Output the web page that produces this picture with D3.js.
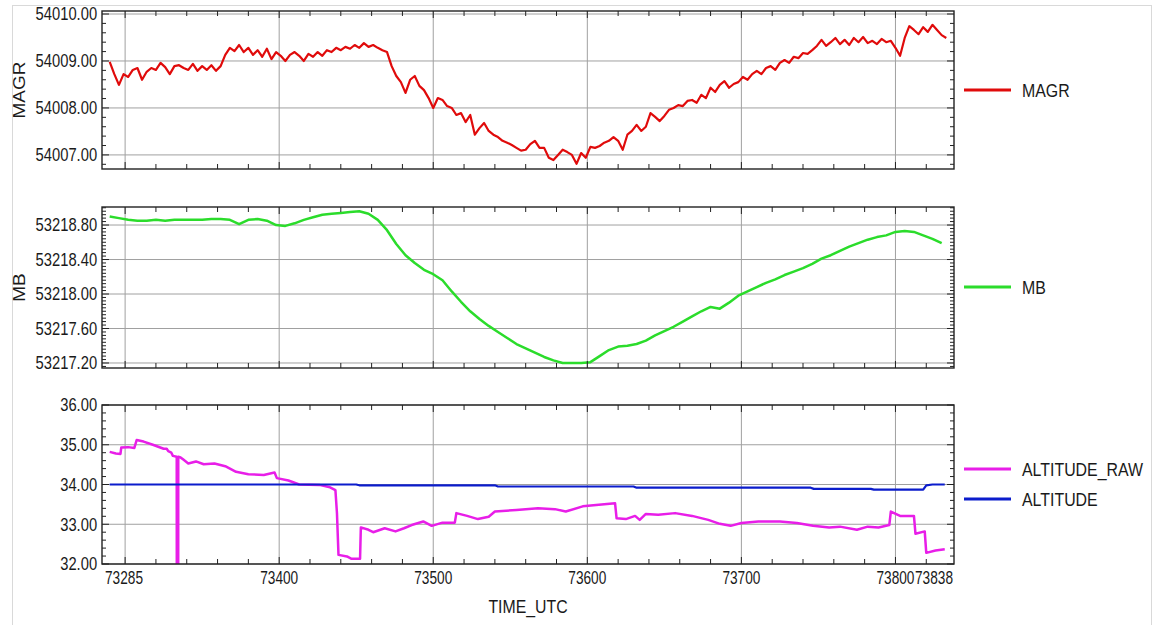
<!DOCTYPE html>
<html>
<head>
<meta charset="utf-8">
<script src="https://cdnjs.cloudflare.com/ajax/libs/d3/7.8.5/d3.min.js"></script>
<style>
    body {margin: 0; background: #fff;}
    text {font-family: "Liberation Sans", Arial, sans-serif; fill: #1a1a1a;}
</style>
</head>
<body>
<div class="chart"></div>
<script>
// MAGR, one sample every 3 s from 73290
const magrStart = 73290, magrStep = 3;
const magrValues = [
    54008.98, 54008.72, 54008.49, 54008.72, 54008.66, 54008.81, 54008.85, 54008.60, 54008.77, 54008.85,
    54008.81, 54008.96, 54008.87, 54008.72, 54008.89, 54008.91, 54008.85, 54008.81, 54008.94, 54008.79,
    54008.89, 54008.81, 54008.91, 54008.79, 54008.89, 54009.13, 54009.28, 54009.21, 54009.34, 54009.19,
    54009.28, 54009.13, 54009.23, 54009.09, 54009.26, 54009.04, 54009.19, 54009.11, 54009.00, 54009.13,
    54009.19, 54009.11, 54009.00, 54009.15, 54009.09, 54009.19, 54009.11, 54009.23, 54009.19, 54009.28,
    54009.23, 54009.30, 54009.26, 54009.34, 54009.28, 54009.38, 54009.30, 54009.34, 54009.28, 54009.23,
    54009.19, 54008.89, 54008.68, 54008.55, 54008.32, 54008.60, 54008.68, 54008.47, 54008.38, 54008.21,
    54008.00, 54008.21, 54008.17, 54008.04, 54008.00, 54007.85, 54007.89, 54007.70, 54007.85, 54007.43,
    54007.57, 54007.68, 54007.51, 54007.43, 54007.38, 54007.30, 54007.26, 54007.21, 54007.15, 54007.09,
    54007.11, 54007.23, 54007.30, 54007.15, 54007.15, 54006.94, 54006.89, 54007.00, 54007.11, 54007.06,
    54007.00, 54006.81, 54007.04, 54006.94, 54007.17, 54007.15, 54007.19, 54007.26, 54007.30, 54007.38,
    54007.30, 54007.11, 54007.43, 54007.51, 54007.64, 54007.51, 54007.60, 54007.89, 54007.81, 54007.72,
    54007.83, 54007.96, 54008.00, 54008.06, 54008.04, 54008.15, 54008.17, 54008.11, 54008.28, 54008.21,
    54008.43, 54008.34, 54008.49, 54008.57, 54008.43, 54008.51, 54008.55, 54008.66, 54008.60, 54008.72,
    54008.79, 54008.72, 54008.85, 54008.89, 54008.81, 54008.96, 54009.02, 54008.96, 54009.09, 54009.06,
    54009.17, 54009.15, 54009.23, 54009.32, 54009.45, 54009.32, 54009.40, 54009.49, 54009.36, 54009.45,
    54009.34, 54009.49, 54009.40, 54009.51, 54009.38, 54009.43, 54009.36, 54009.47, 54009.40, 54009.43,
    54009.28, 54009.11, 54009.49, 54009.74, 54009.66, 54009.57, 54009.72, 54009.62, 54009.77, 54009.66,
    54009.55, 54009.49
];

// MB, one sample every 6 s from 73290
const mbStart = 73290, mbStep = 6;
const mbValues = [
    53218.90, 53218.88, 53218.86, 53218.85, 53218.85, 53218.86, 53218.85, 53218.86, 53218.86, 53218.86,
    53218.86, 53218.87, 53218.87, 53218.86, 53218.81, 53218.86, 53218.87, 53218.85, 53218.80, 53218.79,
    53218.82, 53218.86, 53218.89, 53218.92, 53218.93, 53218.94, 53218.95, 53218.96, 53218.93, 53218.86,
    53218.74, 53218.58, 53218.45, 53218.36, 53218.28, 53218.23, 53218.16, 53218.03, 53217.91, 53217.80,
    53217.71, 53217.63, 53217.56, 53217.49, 53217.42, 53217.37, 53217.32, 53217.27, 53217.23, 53217.20,
    53217.20, 53217.20, 53217.21, 53217.28, 53217.35, 53217.39, 53217.40, 53217.42, 53217.46, 53217.52,
    53217.57, 53217.62, 53217.68, 53217.74, 53217.80, 53217.85, 53217.83, 53217.90, 53217.98, 53218.03,
    53218.08, 53218.13, 53218.17, 53218.22, 53218.26, 53218.30, 53218.35, 53218.41, 53218.45, 53218.50,
    53218.55, 53218.59, 53218.63, 53218.66, 53218.68, 53218.72, 53218.73, 53218.72, 53218.68, 53218.64,
    53218.59
];

// ALTITUDE_RAW (steps, one dropout at 73334)
const altRawTime = [
    73290, 73294, 73297, 73297.5, 73302, 73306, 73307.5, 73312, 73318, 73325,
    73327, 73328, 73330, 73331, 73333.5, 73334, 73334.5, 73336, 73338, 73341,
    73346, 73351, 73358, 73365, 73372, 73380, 73390, 73397, 73398.5, 73406,
    73413, 73426, 73433, 73436.5, 73437.5, 73438.5, 73444, 73447, 73452.5, 73453,
    73458, 73461, 73468.5, 73475.5, 73481, 73486, 73493.5, 73499, 73506, 73514,
    73515, 73522, 73529, 73536, 73540, 73554, 73568, 73579, 73586, 73597,
    73607.5, 73618, 73619, 73625, 73631, 73634, 73638, 73646, 73657, 73668,
    73678.5, 73686, 73693, 73700, 73711, 73725, 73736, 73746.5, 73757, 73764,
    73775, 73782, 73789, 73796, 73797, 73803, 73812, 73813, 73819, 73820,
    73826, 73832
];
const altRawValues = [
    34.82, 34.78, 34.77, 34.93, 34.94, 34.92, 35.12, 35.08, 35.00, 34.90,
    34.90, 34.84, 34.80, 34.72, 34.70, 0, 34.70, 34.68, 34.62, 34.53,
    34.58, 34.51, 34.53, 34.46, 34.32, 34.26, 34.24, 34.30, 34.16, 34.10,
    34.00, 33.99, 33.93, 33.86, 33.28, 32.23, 32.19, 32.13, 32.13, 32.92,
    32.86, 32.80, 32.90, 32.82, 32.90, 32.98, 33.07, 32.96, 33.04, 33.04,
    33.28, 33.21, 33.13, 33.19, 33.32, 33.36, 33.40, 33.38, 33.32, 33.45,
    33.49, 33.53, 33.15, 33.13, 33.21, 33.11, 33.26, 33.24, 33.28, 33.21,
    33.11, 33.01, 32.96, 33.03, 33.07, 33.07, 33.03, 32.96, 32.92, 32.94,
    32.86, 32.94, 32.92, 32.98, 33.32, 33.21, 33.21, 32.76, 32.82, 32.28,
    32.34, 32.37
];

// ALTITUDE
const altTime = [73290, 73450, 73452, 73540, 73542, 73630, 73632, 73745, 73747, 73784, 73786, 73818, 73820, 73824, 73832];
const altValues = [34.00, 34.00, 33.98, 33.98, 33.95, 33.95, 33.92, 33.92, 33.89, 33.89, 33.87, 33.87, 33.98, 34.00, 34.00];

const xDomain = [73285, 73838];
const xGridTicks = [73300, 73400, 73500, 73600, 73700, 73800];
const xTickLabels = [73285, 73400, 73500, 73600, 73700, 73800, 73838];
const magrTicks = [54007, 54008, 54009, 54010];
const mbTicks = [53217.2, 53217.6, 53218.0, 53218.4, 53218.8];
const altTicks = [32, 33, 34, 35, 36];

const COLORS = {MAGR: "#e00b0b", MB: "#2bdc2b", ALTITUDE_RAW: "#e81ee8", ALTITUDE: "#0b1ccc"};

let svg = d3.select(".chart").append("svg").attr("width", 1153).attr("height", 625);

// outer light frame
svg.append("rect").attr("x", 12.5).attr("y", 5.5).attr("width", 1139).attr("height", 640)
    .attr("fill", "none").attr("stroke", "#d9d9d9");

let left = 102, right = 954;
let x = d3.scaleLinear().domain(xDomain).range([left, right]);

function rangeStep(lo, hi, step) {
    let out = [];
    for (let k = Math.ceil(lo / step - 1e-6); k <= Math.floor(hi / step + 1e-6); k++) out.push(+(k * step).toFixed(4));
    return out;
}

function drawPanel(cfg) {
    let y = d3.scaleLinear().domain(cfg.domain).range([cfg.bottom, cfg.top]);
    let g = svg.append("g");

    // grid
    g.append("g").selectAll("line").data(cfg.ticks).enter().append("line")
        .attr("x1", left).attr("x2", right)
        .attr("y1", d => y(d)).attr("y2", d => y(d))
        .attr("stroke", "#a0a0a0").attr("stroke-width", 1);
    g.append("g").selectAll("line").data(xGridTicks).enter().append("line")
        .attr("x1", d => x(d)).attr("x2", d => x(d))
        .attr("y1", cfg.top).attr("y2", cfg.bottom)
        .attr("stroke", "#a0a0a0").attr("stroke-width", 1);

    // series
    svg.append("clipPath").attr("id", "clip-" + cfg.id).append("rect")
        .attr("x", left).attr("y", cfg.top).attr("width", right - left).attr("height", cfg.bottom - cfg.top);
    let line = d3.line().x(d => x(d.t)).y(d => y(d.v));
    cfg.series.forEach(function (s) {
        g.append("path").datum(s.data)
            .attr("clip-path", "url(#clip-" + cfg.id + ")")
            .attr("fill", "none").attr("stroke", COLORS[s.name])
            .attr("stroke-width", s.width).attr("stroke-linejoin", "round")
            .attr("d", line);
    });

    // minor ticks, inside the frame
    let minorY = rangeStep(cfg.domain[0], cfg.domain[1], cfg.minor);
    let ticksG = g.append("g").attr("stroke", "#222").attr("stroke-width", 1);
    minorY.forEach(function (v) {
        let len = cfg.ticks.some(t => Math.abs(t - v) < 1e-6) ? 7 : 4;
        ticksG.append("line").attr("x1", left).attr("x2", left + len).attr("y1", y(v)).attr("y2", y(v));
        ticksG.append("line").attr("x1", right).attr("x2", right - len).attr("y1", y(v)).attr("y2", y(v));
    });
    rangeStep(xDomain[0], xDomain[1], 20).forEach(function (t) {
        let len = t % 100 === 0 ? 7 : 5;
        ticksG.append("line").attr("x1", x(t)).attr("x2", x(t)).attr("y1", cfg.bottom).attr("y2", cfg.bottom - len);
        ticksG.append("line").attr("x1", x(t)).attr("x2", x(t)).attr("y1", cfg.top).attr("y2", cfg.top + len);
    });

    g.append("rect").attr("x", left).attr("y", cfg.top)
        .attr("width", right - left).attr("height", cfg.bottom - cfg.top)
        .attr("fill", "none").attr("stroke", "#222").attr("stroke-width", 1.4);

    // tick labels
    let axis = g.append("g").attr("transform", "translate(" + left + ",0)")
        .call(d3.axisLeft(y).tickValues(cfg.ticks).tickFormat(d3.format(".2f")).tickSize(0).tickPadding(6));
    axis.select(".domain").remove();
    axis.selectAll("text").attr("font-size", "18px").attr("font-family", null)
        .attr("transform", "scale(0.82,1)").attr("fill", "#1a1a1a");

    if (cfg.title) {
        g.append("text")
            .attr("transform", "translate(25," + ((cfg.top + cfg.bottom) / 2) + ") rotate(-90) scale(1,0.85)")
            .attr("text-anchor", "middle").attr("font-size", "19px").text(cfg.title);
    }

    // legend
    cfg.series.forEach(function (s, i) {
        let ly = cfg.legendY + i * 30;
        g.append("line").attr("x1", 964).attr("x2", 1011).attr("y1", ly).attr("y2", ly)
            .attr("stroke", COLORS[s.name]).attr("stroke-width", 3);
        g.append("text").attr("transform", "translate(1022," + (ly + 7) + ") scale(0.86,1)")
            .attr("font-size", "18.5px").text(s.name);
    });

    if (cfg.xLabels) {
        xTickLabels.forEach(function (t, i) {
            let anchor = "middle", px = x(t);
            if (i === 0) {anchor = "start"; px += 3;}
            if (i === xTickLabels.length - 1) {anchor = "end"; px -= 1;}
            g.append("text").attr("transform", "translate(" + px + "," + (cfg.bottom + 20) + ") scale(0.76,1)")
                .attr("text-anchor", anchor).attr("font-size", "18px").text(t);
        });
    }
}

drawPanel({
    id: "magr", top: 11, bottom: 169, domain: [54006.70, 54010.064], ticks: magrTicks, minor: 0.2,
    title: "MAGR", legendY: 90,
    series: [{name: "MAGR", width: 2.2, data: magrValues.map((v, i) => ({t: magrStart + i * magrStep, v: v}))}]
});

drawPanel({
    id: "mb", top: 207, bottom: 368, domain: [53217.142, 53219.009], ticks: mbTicks, minor: 0.04,
    title: "MB", legendY: 287,
    series: [{name: "MB", width: 2.5, data: mbValues.map((v, i) => ({t: mbStart + i * mbStep, v: v}))}]
});

drawPanel({
    id: "alt", top: 405, bottom: 564, domain: [32, 36], ticks: altTicks, minor: 0.2,
    title: null, legendY: 469, xLabels: true,
    series: [
        {name: "ALTITUDE_RAW", width: 2.5, data: altRawTime.map((t, i) => ({t: t, v: altRawValues[i]}))},
        {name: "ALTITUDE", width: 2.2, data: altTime.map((t, i) => ({t: t, v: altValues[i]}))}
    ]
});

svg.append("text").attr("transform", "translate(" + ((left + right) / 2) + ",613) scale(0.88,1)")
    .attr("text-anchor", "middle").attr("font-size", "18px").text("TIME_UTC");
</script>
</body>
</html>
